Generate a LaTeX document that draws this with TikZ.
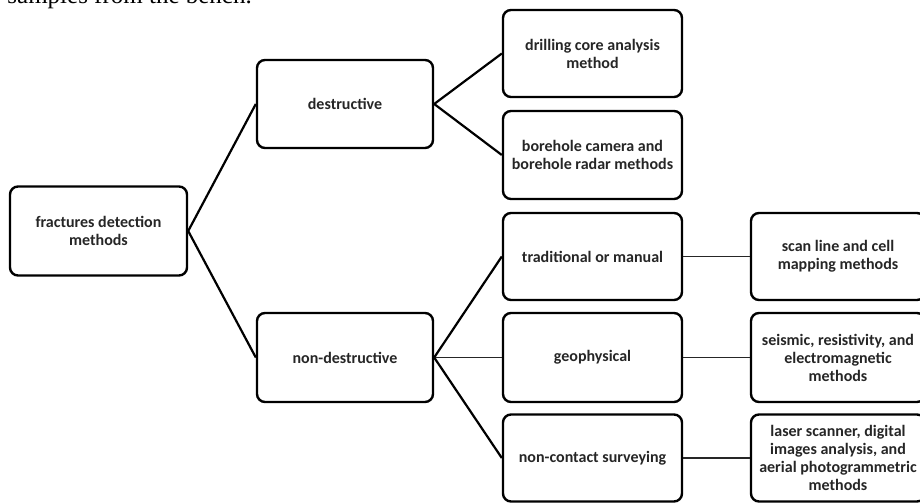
\documentclass[tikz,border=0pt]{standalone}
\usepackage{fontspec}
\usepackage{graphicx}
\setmainfont{Carlito}
\newfontfamily\serifpage{Liberation Serif}
\begin{document}
\begin{tikzpicture}[x=1pt,y=1pt,
  box/.style={draw=black, line width=2.4pt, rounded corners=8pt, fill=white,
    align=center, inner sep=0pt, text=black!85,
    font=\fontsize{16}{18}\selectfont\bfseries},
  link/.style={draw=black, line width=2.2pt},
  hlink/.style={draw=black!85, line width=1.6pt}]
\useasboundingbox (0,0) rectangle (920,503);
\clip (0,0) rectangle (920,503);
\fill[white] (0,0) rectangle (920,503);
\node[anchor=base east, inner sep=0pt, font=\serifpage\fontsize{25}{25}\selectfont] (top) at (252,499) {samples from the bench.};
\node[box, minimum width=177pt, minimum height=89pt] (root) at (98.5,272) {fractures detection\\methods};
\node[box, minimum width=176pt, minimum height=88pt] (destr) at (345,399) {destructive};
\node[box, minimum width=176pt, minimum height=89pt] (nondes) at (345,145.5) {non-destructive};
\node[box, minimum width=179pt, minimum height=87pt] (drill) at (592.5,449.5) {drilling core analysis\\method};
\node[box, minimum width=179pt, minimum height=88pt] (bore) at (592.5,348) {borehole camera and\\borehole radar methods};
\node[box, minimum width=179pt, minimum height=87pt] (trad) at (592.5,246.5) {traditional or manual};
\node[box, minimum width=179pt, minimum height=89pt] (geo) at (592.5,145.5) {geophysical};
\node[box, minimum width=179pt, minimum height=87pt] (nonc) at (592.5,45) {non-contact surveying};
\node[box, minimum width=174pt, minimum height=87pt] (scan) at (838,246.5) {scan line and cell\\mapping methods};
\node[box, minimum width=174pt, minimum height=89pt] (seis) at (838,145.5) {seismic, resistivity, and\\electromagnetic\\methods};
\node[box, minimum width=174pt, minimum height=87pt] (laser) at (838,45) {laser scanner, digital\\images analysis, and\\aerial photogrammetric\\methods};
\draw[link] (root.east) -- (destr.west);
\draw[link] (root.east) -- (nondes.west);
\draw[link] (destr.east) -- (drill.west);
\draw[link] (destr.east) -- (bore.west);
\draw[link] (nondes.east) -- (trad.west);
\draw[hlink] (nondes.east) -- (geo.west);
\draw[link] (nondes.east) -- (nonc.west);
\draw[hlink] (trad.east) -- (scan.west);
\draw[hlink] (geo.east) -- (seis.west);
\draw[hlink] (nonc.east) -- (laser.west);
\end{tikzpicture}
\end{document}
